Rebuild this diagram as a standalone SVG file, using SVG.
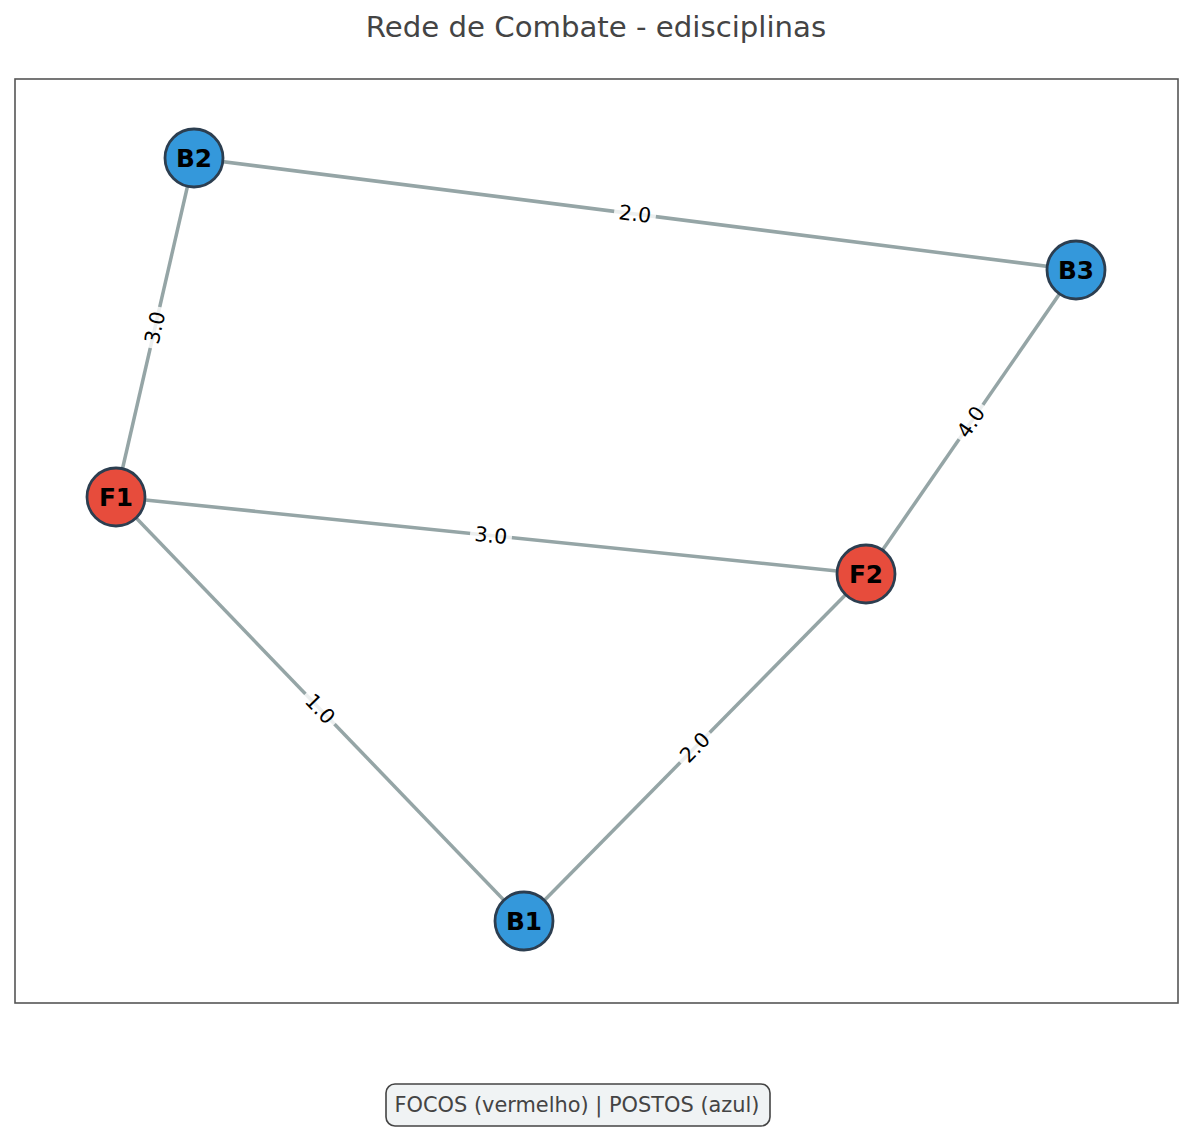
<svg xmlns="http://www.w3.org/2000/svg" width="1192" height="1131" viewBox="0 0 1192 1131">
<style>
.edge{stroke:#95a5a6;stroke-width:3.5;fill:none}
.lbox{fill:#ffffff;fill-opacity:0.82;stroke:none}
.ltxt{font-family:"DejaVu Sans",sans-serif;font-size:20.5px;fill:#000;text-anchor:middle;dominant-baseline:central}
.node circle{stroke:#2c3e50;stroke-width:2.8}
.blue{fill:#3498db}
.red{fill:#e74c3c}
.ntxt{font-family:"DejaVu Sans",sans-serif;font-size:24.8px;font-weight:bold;fill:#000;text-anchor:middle;dominant-baseline:central}
</style>
<rect width="1192" height="1131" fill="#ffffff"/>
<text x="596" y="37" font-family="DejaVu Sans, sans-serif" font-size="29.2" fill="#444444" text-anchor="middle">Rede de Combate - edisciplinas</text>
<rect x="15" y="79" width="1163" height="924" fill="none" stroke="#555555" stroke-width="1.6"/>
<g id="connectors">
<line class="edge" x1="194" y1="158" x2="1076" y2="270"/>
<line class="edge" x1="194" y1="158" x2="116" y2="497"/>
<line class="edge" x1="116" y1="497" x2="866" y2="574"/>
<line class="edge" x1="116" y1="497" x2="524" y2="921"/>
<line class="edge" x1="866" y1="574" x2="524" y2="921"/>
<line class="edge" x1="866" y1="574" x2="1076" y2="270"/>
<g transform="translate(635,214) rotate(7.24)"><rect class="lbox" x="-21" y="-11" width="42" height="22" rx="4"/><text class="ltxt" x="0" y="0">2.0</text></g>
<g transform="translate(155,327.5) rotate(-77)"><rect class="lbox" x="-21" y="-11" width="42" height="22" rx="4"/><text class="ltxt" x="0" y="0">3.0</text></g>
<g transform="translate(491,535.5) rotate(5.86)"><rect class="lbox" x="-21" y="-11" width="42" height="22" rx="4"/><text class="ltxt" x="0" y="0">3.0</text></g>
<g transform="translate(320,709) rotate(46.1)"><rect class="lbox" x="-21" y="-11" width="42" height="22" rx="4"/><text class="ltxt" x="0" y="0">1.0</text></g>
<g transform="translate(695,747.5) rotate(-45.4)"><rect class="lbox" x="-21" y="-11" width="42" height="22" rx="4"/><text class="ltxt" x="0" y="0">2.0</text></g>
<g transform="translate(971,422) rotate(-55.4)"><rect class="lbox" x="-21" y="-11" width="42" height="22" rx="4"/><text class="ltxt" x="0" y="0">4.0</text></g>
</g>
<g id="B2" class="node"><circle class="blue" cx="194" cy="158" r="29"/><text class="ntxt" x="194" y="158">B2</text></g>
<g id="B3" class="node"><circle class="blue" cx="1076" cy="270" r="29"/><text class="ntxt" x="1076" y="270">B3</text></g>
<g id="F1" class="node"><circle class="red" cx="116" cy="497" r="29"/><text class="ntxt" x="116" y="497">F1</text></g>
<g id="F2" class="node"><circle class="red" cx="866" cy="574" r="29"/><text class="ntxt" x="866" y="574">F2</text></g>
<g id="B1" class="node"><circle class="blue" cx="524" cy="921" r="29"/><text class="ntxt" x="524" y="921">B1</text></g>
<g id="legend">
<rect x="386" y="1084" width="384" height="42" rx="9" fill="#f0f3f4" stroke="#444444" stroke-width="1.6"/>
<text x="577" y="1112" font-family="DejaVu Sans, sans-serif" font-size="20.9" fill="#444444" text-anchor="middle">FOCOS (vermelho) | POSTOS (azul)</text>
</g>
</svg>
